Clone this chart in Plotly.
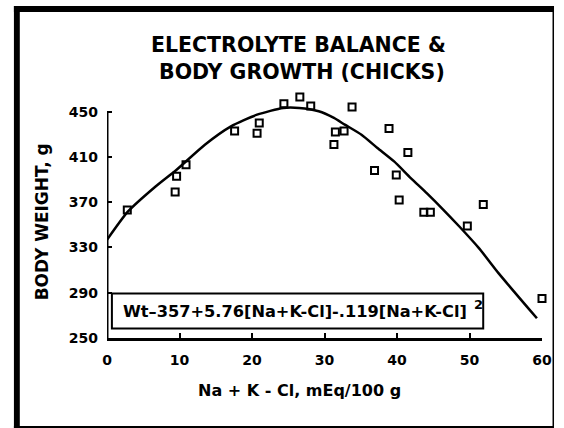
import plotly.graph_objects as go

# ---- data ----
obs_x = [2.8, 9.4, 9.6, 10.9, 17.6, 20.7, 21.0, 24.4, 26.6, 28.1, 31.3, 31.5,
         32.7, 33.8, 38.9, 36.9, 41.5, 39.9, 40.3, 43.7, 44.6, 49.7, 51.9, 60.0]
obs_y = [363, 379, 393, 403, 433, 431, 440, 457, 463, 455, 421, 432,
         433, 454, 435, 398, 414, 394, 372, 361, 361, 349, 368, 285]

fit_x = [0, 2.9, 6.7, 9.6, 13.5, 17.1, 20.7, 24.3, 26.5, 29.2, 31.3, 32.8,
         35.1, 37.3, 39.6, 41.9, 44.1, 46.4, 48.6, 51.3, 54.0, 59.3]
fit_y = [336.7, 361.8, 383.9, 398.7, 420.8, 437.0, 447.3, 453.3, 453.3, 450.3, 444.4, 438.5,
         429.6, 417.9, 406.0, 391.3, 378.0, 363.3, 348.5, 329.4, 307.3, 267.4]

x_ticks = [0, 10, 20, 30, 40, 50, 60]
y_ticks = [250, 290, 330, 370, 410, 450]

title_lines = ["ELECTROLYTE BALANCE &", "BODY GROWTH (CHICKS)"]
x_title = "Na + K - Cl, mEq/100 g"
y_title = "BODY WEIGHT, g"
equation = "Wt\u2013357+5.76[Na+K-Cl]-.119[Na+K-Cl]"

FONT = "DejaVu Sans"
W, H = 564, 428
L, R, T, B = 107, 13, 89, 90
PW, PH = W - L - R, H - T - B


def px(xp):
    return (xp - L) / PW


def py(yp):
    return (H - B - yp) / PH


fig = go.Figure()
fig.add_trace(go.Scatter(x=fit_x, y=fit_y, mode="lines",
                         line=dict(color="black", width=2.5, shape="spline", smoothing=0.6),
                         hoverinfo="skip", showlegend=False))
fig.add_trace(go.Scatter(x=obs_x, y=obs_y, mode="markers", cliponaxis=False,
                         marker=dict(symbol="square-open", size=7, color="black",
                                     line=dict(width=2, color="black")),
                         showlegend=False))

fig.update_layout(
    width=W, height=H,
    margin=dict(l=L, r=R, t=T, b=B),
    paper_bgcolor="white", plot_bgcolor="white",
    font=dict(family=FONT, color="black"),
    xaxis=dict(range=[0, 60], tickvals=x_ticks, ticks="inside", ticklen=5,
               tickwidth=2, tickcolor="black", showline=True, linewidth=3,
               linecolor="black", showgrid=False, zeroline=False,
               ticklabelstandoff=7,
               tickfont=dict(family=FONT, size=14, color="black", weight="bold")),
    yaxis=dict(range=[250, 470], tickvals=y_ticks, ticks="inside", ticklen=5,
               tickwidth=2, tickcolor="black", showline=False, showgrid=False,
               zeroline=False, ticklabelstandoff=8,
               tickfont=dict(family=FONT, size=14, color="black", weight="bold")),
)

shapes = [
    # y-axis line from 250 to 450 only
    dict(type="line", xref="x", yref="y", x0=0, x1=0, y0=250, y1=450,
         line=dict(color="black", width=3)),
    # equation box
    dict(type="rect", xref="paper", yref="paper", x0=px(112), x1=px(491),
         y0=py(328.5), y1=py(293.5), line=dict(color="black", width=2)),
    # outer frame
    dict(type="rect", xref="paper", yref="paper", x0=px(12), x1=px(18),
         y0=py(428), y1=py(6), line=dict(width=0), fillcolor="black"),
    dict(type="rect", xref="paper", yref="paper", x0=px(12), x1=px(563),
         y0=py(12), y1=py(6), line=dict(width=0), fillcolor="black"),
    dict(type="line", xref="paper", yref="paper", x0=px(562.5), x1=px(562.5),
         y0=py(428), y1=py(6), line=dict(color="black", width=1.5)),
    dict(type="line", xref="paper", yref="paper", x0=px(12), x1=px(563),
         y0=py(427), y1=py(427), line=dict(color="black", width=2)),
]
fig.update_layout(shapes=shapes)

bold = dict(family=FONT, color="black", weight="bold")
ann = [
    dict(text=title_lines[0], x=px(302), y=py(45), font=dict(size=20.5, **bold)),
    dict(text=title_lines[1], x=px(306), y=py(72), font=dict(size=20.5, **bold)),
    dict(text=x_title, x=px(303.5), y=py(390), font=dict(size=16, **bold)),
    dict(text=y_title, x=px(41), y=py(222), textangle=-90, font=dict(size=17, **bold)),
    dict(text=equation, x=px(121.5), y=py(311.5), xanchor="left",
         font=dict(size=16.2, **bold)),
    dict(text="2", x=px(480), y=py(304), xanchor="left", font=dict(size=13, **bold)),
]
for a in ann:
    a.setdefault("xanchor", "center")
    fig.add_annotation(xref="paper", yref="paper", yanchor="middle",
                       showarrow=False, **a)

fig.write_html("out.html", config={"displayModeBar": False},
               post_script="document.body.style.margin='0';document.body.style.overflow='hidden';")
